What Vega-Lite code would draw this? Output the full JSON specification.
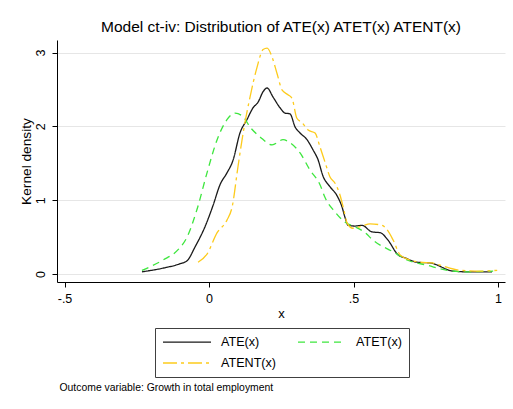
{
  "$schema": "https://vega.github.io/schema/vega-lite/v6.json",
  "width": 448,
  "height": 242,
  "autosize": {"type": "none"},
  "padding": {"left": 57, "top": 40, "right": 8, "bottom": 127},
  "background": "white",
  "title": {
    "text": "Model ct-iv: Distribution of ATE(x) ATET(x) ATENT(x)",
    "font": "Liberation Sans",
    "fontSize": 15.5,
    "fontWeight": "normal",
    "color": "black",
    "frame": "group",
    "anchor": "middle",
    "offset": 5
  },
  "config": {
    "view": {"stroke": null},
    "font": "Liberation Sans",
    "axis": {"labelFont": "Liberation Sans", "titleFont": "Liberation Sans", "labelColor": "black", "titleColor": "black", "titleFontWeight": "normal"}
  },
  "datasets": {
    "kd": [
      {"series": "ATE(x)", "x": -0.232, "y": 0.03},
      {"series": "ATE(x)", "x": -0.159, "y": 0.08},
      {"series": "ATE(x)", "x": -0.1, "y": 0.14},
      {"series": "ATE(x)", "x": -0.076, "y": 0.18},
      {"series": "ATE(x)", "x": -0.048, "y": 0.37},
      {"series": "ATE(x)", "x": -0.014, "y": 0.64},
      {"series": "ATE(x)", "x": 0.014, "y": 0.93},
      {"series": "ATE(x)", "x": 0.038, "y": 1.21},
      {"series": "ATE(x)", "x": 0.062, "y": 1.37},
      {"series": "ATE(x)", "x": 0.083, "y": 1.54},
      {"series": "ATE(x)", "x": 0.107, "y": 1.91},
      {"series": "ATE(x)", "x": 0.131, "y": 2.09},
      {"series": "ATE(x)", "x": 0.152, "y": 2.25},
      {"series": "ATE(x)", "x": 0.17, "y": 2.33},
      {"series": "ATE(x)", "x": 0.187, "y": 2.47},
      {"series": "ATE(x)", "x": 0.201, "y": 2.52},
      {"series": "ATE(x)", "x": 0.221, "y": 2.4},
      {"series": "ATE(x)", "x": 0.246, "y": 2.25},
      {"series": "ATE(x)", "x": 0.263, "y": 2.18},
      {"series": "ATE(x)", "x": 0.28, "y": 2.17},
      {"series": "ATE(x)", "x": 0.298, "y": 1.99},
      {"series": "ATE(x)", "x": 0.315, "y": 1.91},
      {"series": "ATE(x)", "x": 0.339, "y": 1.82},
      {"series": "ATE(x)", "x": 0.36, "y": 1.68},
      {"series": "ATE(x)", "x": 0.377, "y": 1.55},
      {"series": "ATE(x)", "x": 0.394, "y": 1.33},
      {"series": "ATE(x)", "x": 0.419, "y": 1.18},
      {"series": "ATE(x)", "x": 0.443, "y": 1.06},
      {"series": "ATE(x)", "x": 0.46, "y": 0.91},
      {"series": "ATE(x)", "x": 0.471, "y": 0.76},
      {"series": "ATE(x)", "x": 0.481, "y": 0.66},
      {"series": "ATE(x)", "x": 0.505, "y": 0.65},
      {"series": "ATE(x)", "x": 0.529, "y": 0.66},
      {"series": "ATE(x)", "x": 0.564, "y": 0.57},
      {"series": "ATE(x)", "x": 0.592, "y": 0.56},
      {"series": "ATE(x)", "x": 0.619, "y": 0.46},
      {"series": "ATE(x)", "x": 0.654, "y": 0.26},
      {"series": "ATE(x)", "x": 0.678, "y": 0.22},
      {"series": "ATE(x)", "x": 0.72, "y": 0.16},
      {"series": "ATE(x)", "x": 0.765, "y": 0.15},
      {"series": "ATE(x)", "x": 0.844, "y": 0.04},
      {"series": "ATE(x)", "x": 0.893, "y": 0.03},
      {"series": "ATE(x)", "x": 0.979, "y": 0.03},

      {"series": "ATET(x)", "x": -0.232, "y": 0.05},
      {"series": "ATET(x)", "x": -0.159, "y": 0.19},
      {"series": "ATET(x)", "x": -0.107, "y": 0.33},
      {"series": "ATET(x)", "x": -0.076, "y": 0.5},
      {"series": "ATET(x)", "x": -0.042, "y": 0.87},
      {"series": "ATET(x)", "x": -0.007, "y": 1.37},
      {"series": "ATET(x)", "x": 0.028, "y": 1.82},
      {"series": "ATET(x)", "x": 0.062, "y": 2.09},
      {"series": "ATET(x)", "x": 0.09, "y": 2.18},
      {"series": "ATET(x)", "x": 0.118, "y": 2.13},
      {"series": "ATET(x)", "x": 0.142, "y": 1.99},
      {"series": "ATET(x)", "x": 0.176, "y": 1.86},
      {"series": "ATET(x)", "x": 0.218, "y": 1.75},
      {"series": "ATET(x)", "x": 0.256, "y": 1.82},
      {"series": "ATET(x)", "x": 0.28, "y": 1.78},
      {"series": "ATET(x)", "x": 0.315, "y": 1.64},
      {"series": "ATET(x)", "x": 0.349, "y": 1.41},
      {"series": "ATET(x)", "x": 0.384, "y": 1.21},
      {"series": "ATET(x)", "x": 0.401, "y": 1.04},
      {"series": "ATET(x)", "x": 0.436, "y": 0.84},
      {"series": "ATET(x)", "x": 0.471, "y": 0.7},
      {"series": "ATET(x)", "x": 0.505, "y": 0.64},
      {"series": "ATET(x)", "x": 0.54, "y": 0.56},
      {"series": "ATET(x)", "x": 0.567, "y": 0.46},
      {"series": "ATET(x)", "x": 0.637, "y": 0.3},
      {"series": "ATET(x)", "x": 0.685, "y": 0.19},
      {"series": "ATET(x)", "x": 0.754, "y": 0.12},
      {"series": "ATET(x)", "x": 0.824, "y": 0.05},
      {"series": "ATET(x)", "x": 0.893, "y": 0.03},
      {"series": "ATET(x)", "x": 0.983, "y": 0.04},

      {"series": "ATENT(x)", "x": -0.038, "y": 0.16},
      {"series": "ATENT(x)", "x": -0.007, "y": 0.27},
      {"series": "ATENT(x)", "x": 0.028, "y": 0.56},
      {"series": "ATENT(x)", "x": 0.062, "y": 0.73},
      {"series": "ATENT(x)", "x": 0.08, "y": 0.91},
      {"series": "ATENT(x)", "x": 0.1, "y": 1.45},
      {"series": "ATENT(x)", "x": 0.118, "y": 1.91},
      {"series": "ATENT(x)", "x": 0.142, "y": 2.4},
      {"series": "ATENT(x)", "x": 0.166, "y": 2.8},
      {"series": "ATENT(x)", "x": 0.187, "y": 3.04},
      {"series": "ATENT(x)", "x": 0.201, "y": 3.06},
      {"series": "ATENT(x)", "x": 0.218, "y": 2.94},
      {"series": "ATENT(x)", "x": 0.235, "y": 2.72},
      {"series": "ATENT(x)", "x": 0.253, "y": 2.49},
      {"series": "ATENT(x)", "x": 0.273, "y": 2.43},
      {"series": "ATENT(x)", "x": 0.287, "y": 2.38},
      {"series": "ATENT(x)", "x": 0.304, "y": 2.11},
      {"series": "ATENT(x)", "x": 0.322, "y": 2.05},
      {"series": "ATENT(x)", "x": 0.343, "y": 1.95},
      {"series": "ATENT(x)", "x": 0.367, "y": 1.91},
      {"series": "ATENT(x)", "x": 0.384, "y": 1.72},
      {"series": "ATENT(x)", "x": 0.401, "y": 1.52},
      {"series": "ATENT(x)", "x": 0.419, "y": 1.31},
      {"series": "ATENT(x)", "x": 0.436, "y": 1.23},
      {"series": "ATENT(x)", "x": 0.453, "y": 1.07},
      {"series": "ATENT(x)", "x": 0.464, "y": 0.91},
      {"series": "ATENT(x)", "x": 0.478, "y": 0.69},
      {"series": "ATENT(x)", "x": 0.498, "y": 0.62},
      {"series": "ATENT(x)", "x": 0.529, "y": 0.65},
      {"series": "ATENT(x)", "x": 0.557, "y": 0.68},
      {"series": "ATENT(x)", "x": 0.599, "y": 0.66},
      {"series": "ATENT(x)", "x": 0.616, "y": 0.6},
      {"series": "ATENT(x)", "x": 0.637, "y": 0.46},
      {"series": "ATENT(x)", "x": 0.661, "y": 0.26},
      {"series": "ATENT(x)", "x": 0.696, "y": 0.19},
      {"series": "ATENT(x)", "x": 0.73, "y": 0.16},
      {"series": "ATENT(x)", "x": 0.772, "y": 0.15},
      {"series": "ATENT(x)", "x": 0.799, "y": 0.12},
      {"series": "ATENT(x)", "x": 0.869, "y": 0.05},
      {"series": "ATENT(x)", "x": 0.938, "y": 0.04},
      {"series": "ATENT(x)", "x": 0.997, "y": 0.05}
    ]
  },
  "data": {"name": "kd"},
  "encoding": {
    "y": {
      "field": "y",
      "type": "quantitative",
      "scale": {"domain": [-0.108, 3.17], "nice": false, "zero": false},
      "axis": {
        "title": "Kernel density",
        "titleFontSize": 13.7,
        "titleAngle": 270,
        "titleAlign": "center",
        "titleBaseline": "middle",
        "titleX": -31,
        "titleY": 121,
        "values": [0, 1, 2, 3],
        "labelAngle": 270,
        "labelAlign": "center",
        "labelBaseline": "middle",
        "labelPadding": 12,
        "labelFontSize": 12.5,
        "tickSize": 5,
        "tickColor": "black",
        "domainColor": "black",
        "grid": true,
        "gridColor": "#e6e6e6",
        "gridWidth": 1
      }
    },
    "color": {
      "field": "series",
      "type": "nominal",
      "scale": {"domain": ["ATE(x)", "ATET(x)", "ATENT(x)"], "range": ["#1a1a1a", "#3ee63e", "#fdcb1c"]},
      "legend": {
        "orient": "none",
        "legendX": 98,
        "legendY": 288,
        "columns": 2,
        "direction": "horizontal",
        "title": null,
        "strokeColor": "#404040",
        "fillColor": "white",
        "padding": 7,
        "symbolType": "M-1,0L7,0",
        "symbolSize": 144,
        "symbolStrokeWidth": 1.3,
        "labelOffset": 45,
        "labelFont": "Liberation Sans",
        "labelFontSize": 12.6,
        "labelColor": "black",
        "columnPadding": 18,
        "rowPadding": 7
      }
    },
    "strokeDash": {
      "field": "series",
      "type": "nominal",
      "scale": {"domain": ["ATE(x)", "ATET(x)", "ATENT(x)"], "range": [[1, 0], [7, 5], [14, 4, 3, 4]]},
      "legend": null
    }
  },
  "layer": [
    {
      "transform": [{"filter": "datum.series !== 'ATENT(x)'"}],
      "mark": {"type": "line", "strokeWidth": 1.3, "interpolate": "monotone"},
      "encoding": {
        "x": {
          "field": "x",
          "type": "quantitative",
          "scale": {"domain": [-0.526, 1.024], "nice": false, "zero": false},
          "axis": {
            "title": "x",
            "titleFontSize": 13,
            "titleBaseline": "middle",
            "titleY": 31,
            "values": [-0.5, 0, 0.5, 1],
            "format": "~g",
            "labelExpr": "datum.value == -0.5 ? '-.5' : datum.value == 0.5 ? '.5' : datum.label",
            "labelFontSize": 12.5,
            "labelBaseline": "middle",
            "labelPadding": 11,
            "tickSize": 5,
            "tickColor": "black",
            "domainColor": "black",
            "grid": false
          }
        }
      }
    },
    {
      "transform": [{"filter": "datum.series === 'ATENT(x)'"}],
      "mark": {"type": "line", "strokeWidth": 1.3, "interpolate": "monotone"},
      "encoding": {
        "x": {
          "field": "x",
          "type": "quantitative",
          "scale": {"domain": [-0.526, 1.024], "nice": false, "zero": false},
          "axis": {
            "orient": "top",
            "title": "Outcome variable: Growth in total employment",
            "titleFontSize": 10.4,
            "titleAngle": 0,
            "titleAlign": "left",
            "titleBaseline": "middle",
            "titleX": 2,
            "titleY": 347,
            "domain": false,
            "ticks": false,
            "labels": false,
            "grid": false
          }
        }
      }
    }
  ],
  "resolve": {"scale": {"x": "independent"}}
}
